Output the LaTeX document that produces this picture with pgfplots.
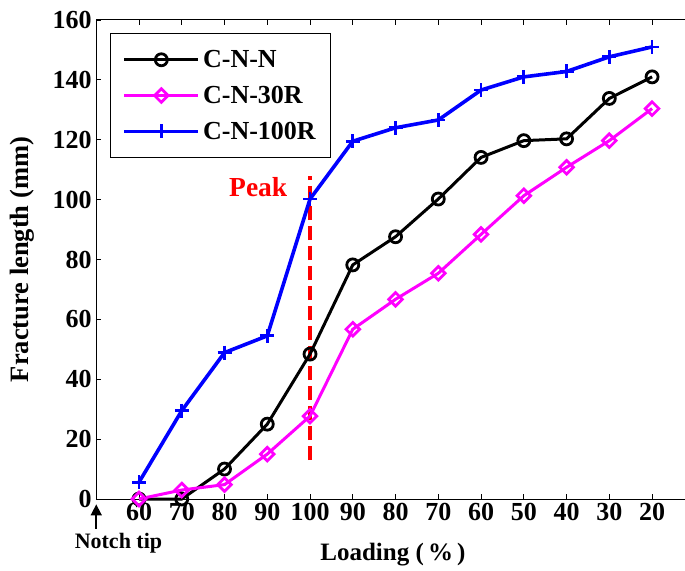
\documentclass[border=0pt]{standalone}
\usepackage{pgfplots}
\pgfplotsset{compat=1.18}
\usepackage{fontspec}
\setmainfont{Liberation Serif}
\usetikzlibrary{arrows.meta}
\definecolor{mblue}{RGB}{0,0,255}
\definecolor{mmag}{RGB}{255,0,255}
\definecolor{mred}{RGB}{255,0,0}
\begin{document}
\begin{tikzpicture}
\begin{axis}[
  scale only axis,
  width=588.75pt, height=479pt,
  xmin=-1, xmax=12.77,
  ymin=0, ymax=160,
  axis x line*=box,
  axis y line*=left,
  axis line style={line width=1pt, black},
  xtick={0,...,12},
  xticklabels={60,70,80,90,100,90,80,70,60,50,40,30,20},
  ytick={0,20,...,160},
  major tick length=5pt,
  tick style={line width=0.8pt, black},
  tick align=inside,
  /pgf/number format/assume math mode=true,
  ticklabel style={font=\fontsize{26}{30}\selectfont\bfseries},
  yticklabel style={xshift=-1pt},
  xticklabel style={yshift=-1pt},
  ylabel={Fracture length (mm)},
  xlabel={Loading (\,\%\,)},
  ylabel style={at={(axis cs:-3.02,80)}, anchor=north, inner sep=0pt, font=\fontsize{26.5}{30}\selectfont\bfseries},
  xlabel style={at={(axis cs:5.94,-20.7)}, anchor=base, inner sep=0pt, font=\fontsize{25}{29}\selectfont\bfseries},
  clip=false,
  legend style={at={(0.0234,0.973)}, anchor=north west, draw=black, line width=1pt,
    font=\fontsize{26}{30}\selectfont\bfseries, inner xsep=12pt, inner ysep=14pt,
    row sep=11pt, nodes={inner sep=3pt}},
  legend cell align=left,
  legend image code/.code={\draw[mark repeat=2,mark phase=2] plot coordinates {(0pt,0pt) (37pt,0pt) (74pt,0pt)};},
]
\addplot[mred, line width=4.5pt, dash pattern=on 14pt off 6pt, forget plot] coordinates {(4,13) (4,108)};
\addplot[black, line width=3pt, mark=o, mark size=6pt, mark options={line width=2.8pt, solid}] coordinates {
(0,0) (1,0) (2,10) (3,25) (4,48.4) (5,78.2) (6,87.6) (7,100.2) (8,114.1) (9,119.7) (10,120.3) (11,133.8) (12,141)};
\addlegendentry{C-N-N}
\addplot[mmag, line width=3pt, mark=square, mark size=4.8pt, mark options={rotate=45, line width=2.8pt, solid}] coordinates {
(0,0) (1,3) (2,4.8) (3,15) (4,27.7) (5,56.7) (6,66.7) (7,75.4) (8,88.4) (9,101.3) (10,110.8) (11,119.7) (12,130.4)};
\addlegendentry{C-N-30R}
\addplot[mblue, line width=3.6pt, mark=+, mark size=7pt, mark options={line width=2.8pt, solid}] coordinates {
(0,5.6) (1,29.5) (2,48.9) (3,54.5) (4,100.2) (5,119.5) (6,124) (7,126.6) (8,136.6) (9,141) (10,142.8) (11,147.7) (12,151)};
\addlegendentry{C-N-100R}
\node[mred, anchor=base east, font=\fontsize{27.5}{31}\selectfont\bfseries] at (axis cs:3.55,101) {Peak};
\draw[-{Triangle[length=11pt,width=11pt]}, line width=1.6pt] (axis cs:-1,-10) -- (axis cs:-1,-1.8);
\node[anchor=base, font=\fontsize{22}{26}\selectfont\bfseries] at (axis cs:-0.48,-16.4) {Notch tip};
\end{axis}
\pgfresetboundingbox
\path[use as bounding box] ([xshift=-96.25pt,yshift=-71pt]current axis.south west) rectangle ([yshift=20pt]current axis.north east);
\end{tikzpicture}
\end{document}
